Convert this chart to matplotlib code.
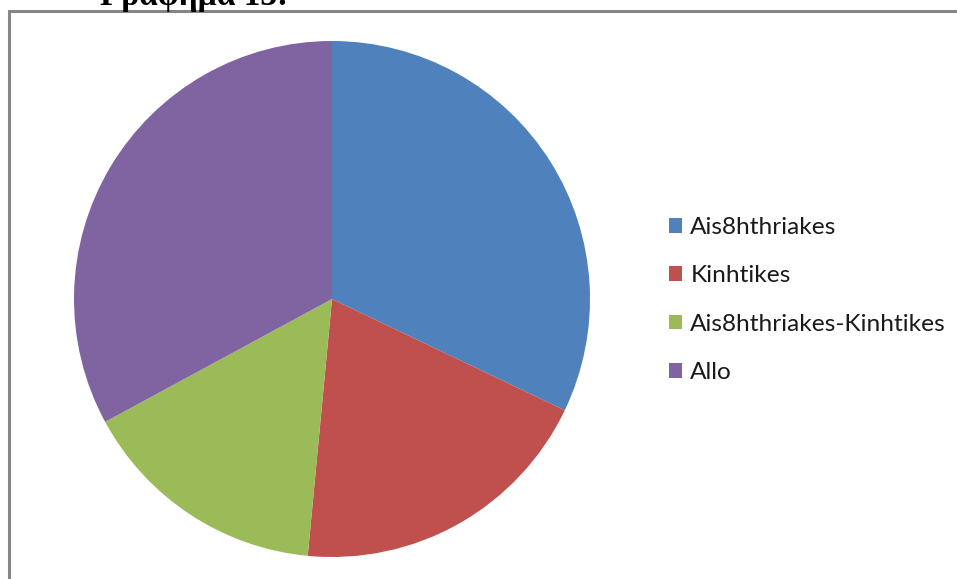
import matplotlib
matplotlib.use("Agg")
import matplotlib.pyplot as plt
from matplotlib.patches import Rectangle

# slice shares (percent), clockwise from 12 o'clock
labels = ["Ais8hthriakes", "Kinhtikes", "Ais8hthriakes-Kinhtikes", "Allo"]
shares = [32.1, 19.4, 15.6, 32.9]
colors = ["#4F81BD", "#C0504D", "#9BBB59", "#8064A2"]

W, H = 957, 579
fig = plt.figure(figsize=(W / 100, H / 100), dpi=100)
fig.patch.set_facecolor("white")

# chart frame (runs off the right and bottom edges)
frame = Rectangle((9 / W, -0.1), 1.2, 1.1 - 10.5 / H, transform=fig.transFigure,
                  fill=False, edgecolor="#868686", linewidth=2.2, zorder=0)
fig.patches.append(frame)

# caption above the frame, partly cut off at the top
fig.text(100 / W, 1 - 5 / H, "Γράφημα 13:", fontsize=24, fontweight="bold",
         family=["Liberation Serif", "DejaVu Serif"], va="baseline", ha="left")

cx, cy, r = 332, 299, 258
ax = fig.add_axes([(cx - r) / W, (H - cy - r) / H, 2 * r / W, 2 * r / H])
wedges, _ = ax.pie(shares, colors=colors, startangle=90, counterclock=False,
                   radius=1.0, wedgeprops=dict(linewidth=0))
ax.set_xlim(-1, 1)
ax.set_ylim(-1, 1)
ax.set_aspect("equal")
ax.axis("off")

leg = fig.legend(wedges, labels, loc="upper left",
                 bbox_to_anchor=(669 / W, 1 - 217 / H),
                 frameon=False, handlelength=0.54, handleheight=0.54,
                 handletextpad=0.33, labelspacing=1.12, borderpad=0, borderaxespad=0,
                 prop={"family": ["Lato", "DejaVu Sans"], "size": 17.6})
for t in leg.get_texts():
    t.set_color("#1a1a1a")

fig.savefig("out.png", dpi=100, facecolor="white")
